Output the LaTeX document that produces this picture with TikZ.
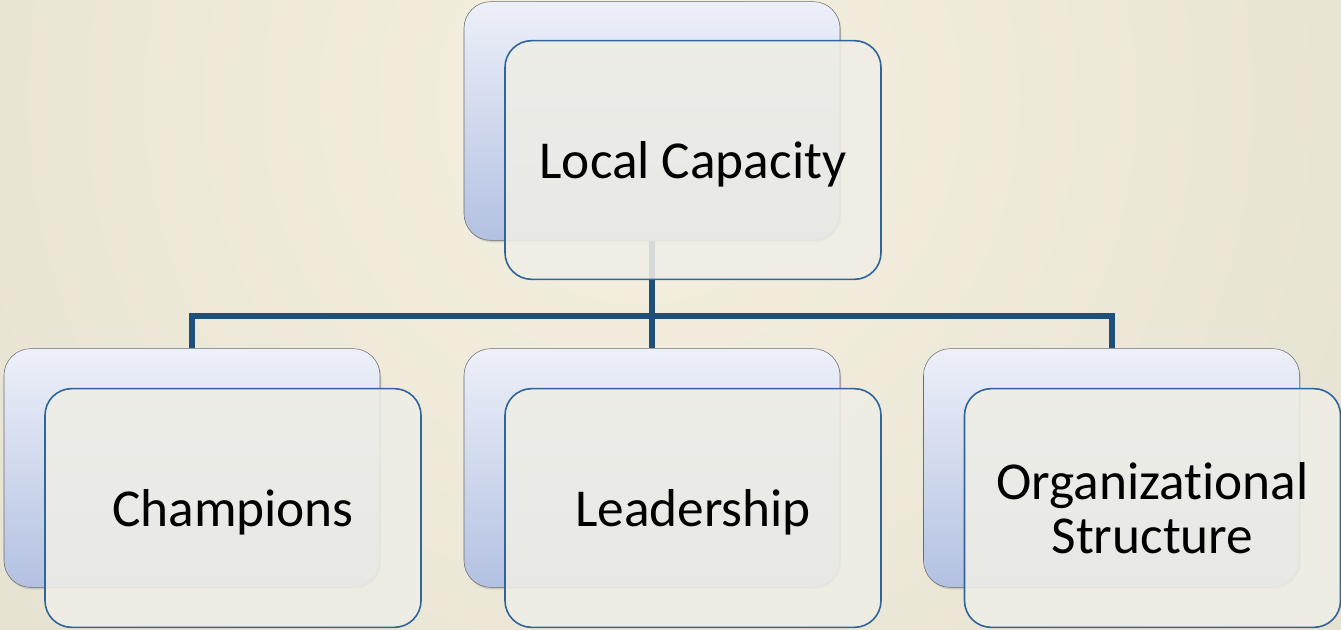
\documentclass[tikz,border=0pt]{standalone}
\usepackage{fontspec}
\setmainfont{Carlito}[Ligatures=NoCommon]
\usetikzlibrary{shadows}
\definecolor{bgin}{HTML}{F5F0E0}
\definecolor{bgout}{HTML}{D5D2C2}
\definecolor{backtop}{HTML}{EDF0F9}
\definecolor{backbot}{HTML}{B3C1E1}
\definecolor{frontfill}{HTML}{EFEEE6}
\definecolor{frontline}{HTML}{2F659A}
\definecolor{linkcol}{HTML}{1F4E79}
\begin{document}
\begin{tikzpicture}[x=0.75pt,y=-0.75pt,line join=miter,
    back/.style={draw=gray!85!black,rounded corners=20pt,top color=backtop,bottom color=backbot,
        minimum width=282pt,minimum height=179pt,inner sep=0pt,
        drop shadow={opacity=0.3,shadow xshift=1pt,shadow yshift=-1.5pt}},
    front/.style={draw=frontline,line width=1.2pt,rounded corners=20pt,fill=frontfill,fill opacity=0.88,
        text opacity=1,minimum width=282pt,minimum height=179pt,inner sep=0pt,align=center,
        text depth=0pt,font=\fontsize{40}{40}\selectfont},
    link/.style={draw=linkcol,line width=4.5pt}]
    % background
    \begin{scope}
        \clip (0,0) rectangle (1341,629);
        \fill[bgout] (0,0) rectangle (1341,629);
        \shade[inner color=bgin,outer color=bgout] (640,100) circle (1400pt);
    \end{scope}
    \useasboundingbox (0,0) rectangle (1341,629);
    % back cards
    \node[back] (capb) at (652,121) {};
    \node[back] (chab) at (192,468) {};
    \node[back] (leab) at (652,468) {};
    \node[back] (orgb) at (1111.5,468) {};
    % tree
    \coordinate (hub) at (652,316);
    \draw[link] (capb.south)--(hub)-|(chab.north);
    \draw[link] (hub)-|(orgb.north);
    \draw[link] (hub)--(leab.north);
    % front cards
    \node[front] (cap) at (693,160) {Local Capacity};
    \node[front] (cha) at (233,508) {Champions};
    \node[front] (lea) at (693,508) {Leadership};
    \node[front] (org) at (1152.5,508) {Organizational\\Structure};
\end{tikzpicture}
\end{document}
